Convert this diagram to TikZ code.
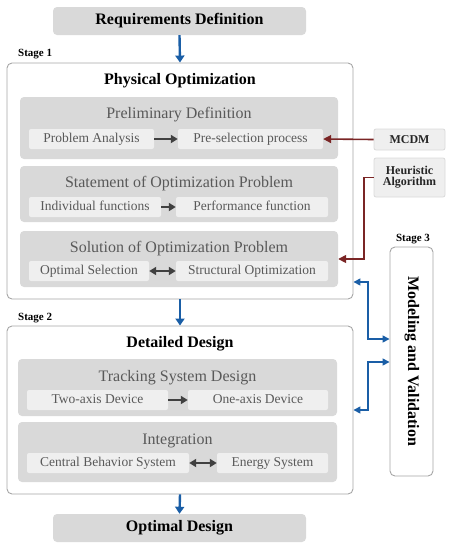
\documentclass[tikz,border=0pt]{standalone}
\usepackage{fontspec}
\setmainfont{Liberation Serif}
\usetikzlibrary{arrows.meta}
\definecolor{boxgray}{HTML}{D9D9D9}
\definecolor{subgray}{HTML}{EFEFEF}
\definecolor{txtgray}{HTML}{595959}
\definecolor{framegray}{HTML}{A6A6A6}
\definecolor{arrgray}{HTML}{404040}
\definecolor{blueA}{HTML}{1A5EA6}
\definecolor{redA}{HTML}{7A2525}
\tikzset{
  capc/.style={text height=0.86em, text depth=0.2em},
  endbox/.style={fill=boxgray, rounded corners=4pt, inner sep=0pt, capc, font=\fontsize{16}{18}\selectfont\bfseries},
  stagebox/.style={draw=framegray, line width=0.9pt, fill=white, rounded corners=5pt, inner sep=0pt},
  graybox/.style={fill=boxgray, rounded corners=4pt, inner sep=0pt},
  subbox/.style={fill=subgray, rounded corners=2pt, inner sep=0pt, text=txtgray, capc, font=\fontsize{13.5}{15}\selectfont},
  sidebox/.style={fill=subgray, draw=boxgray, line width=0.8pt, rounded corners=2pt, inner sep=0pt, font=\fontsize{12}{13}\selectfont\bfseries, align=center, text=black!85},
  ttl/.style={inner sep=0pt, capc, font=\fontsize{16}{18}\selectfont\bfseries},
  subttl/.style={inner sep=0pt, text=txtgray, capc, font=\fontsize{16}{18}\selectfont},
  stagelbl/.style={inner sep=0pt, anchor=west, capc, font=\fontsize{11}{13}\selectfont\bfseries},
  bluebig/.style={draw=blueA, line width=2.4pt, -{Triangle[length=7pt,width=9pt]}},
  bluethin/.style={draw=blueA, line width=1.5pt, {Triangle[length=7pt,width=7pt]}-{Triangle[length=7pt,width=7pt]}},
  grayarr/.style={draw=arrgray, line width=2pt, -{Triangle[length=7pt,width=8pt]}},
  grayarr2/.style={draw=arrgray, line width=2pt, {Triangle[length=7pt,width=8pt]}-{Triangle[length=7pt,width=8pt]}},
  redarr/.style={draw=redA, line width=1.6pt, -{Triangle[length=8pt,width=8pt]}},
}
\begin{document}
\begin{tikzpicture}[x=1pt,y=-1pt]
\useasboundingbox (0,0) rectangle (453,550);
% top and bottom
\node[endbox, minimum width=253pt, minimum height=28pt] (req) at (179.5,21) {Requirements Definition};
\node[endbox, minimum width=253pt, minimum height=28pt] (opt) at (179.5,528) {Optimal Design};
% stage 1
\node[stagelbl] (st1) at (18,53) {Stage 1};
\node[stagebox, minimum width=346pt, minimum height=236pt] (s1) at (180,181) {};
\node[ttl] (phys) at (180,81) {Physical Optimization};
\node[graybox, minimum width=318pt, minimum height=62pt] (pre) at (179,128) {};
\node[subttl] (pret) at (179,115) {Preliminary Definition};
\node[subbox, minimum width=125pt, minimum height=20pt] (pa) at (91.5,139) {Problem Analysis};
\node[subbox, minimum width=145pt, minimum height=20pt] (ps) at (250.5,139) {Pre-selection process};
\node[graybox, minimum width=318pt, minimum height=56pt] (stat) at (179,194) {};
\node[subttl] (statt) at (179,184) {Statement of Optimization Problem};
\node[subbox, minimum width=132pt, minimum height=20pt] (if) at (95,207) {Individual functions};
\node[subbox, minimum width=152pt, minimum height=20pt] (pf) at (252,207) {Performance function};
\node[graybox, minimum width=318pt, minimum height=56pt] (sol) at (179,259) {};
\node[subttl] (solt) at (179,249) {Solution of Optimization Problem};
\node[subbox, minimum width=120pt, minimum height=20pt] (os) at (89,271) {Optimal Selection};
\node[subbox, minimum width=152pt, minimum height=20pt] (so) at (252,271) {Structural Optimization};
% side boxes
\node[sidebox, minimum width=71pt, minimum height=21pt] (mcdm) at (409.5,139.5) {MCDM};
\node[sidebox, minimum width=71pt, minimum height=39pt] (heur) at (409.5,177.5) {Heuristic\\[-2pt]Algorithm};
% stage 2
\node[stagelbl] (st2) at (18,317) {Stage 2};
\node[stagebox, minimum width=346pt, minimum height=168pt] (s2) at (180,410) {};
\node[ttl] (det) at (180,344) {Detailed Design};
\node[graybox, minimum width=319pt, minimum height=57pt] (trk) at (177.5,387.5) {};
\node[subttl] (trkt) at (177.5,378) {Tracking System Design};
\node[subbox, minimum width=141pt, minimum height=20pt] (two) at (97.5,400) {Two-axis Device};
\node[subbox, minimum width=140pt, minimum height=20pt] (one) at (258,400) {One-axis Device};
\node[graybox, minimum width=319pt, minimum height=60pt] (integ) at (177.5,452) {};
\node[subttl] (integt) at (177.5,441) {Integration};
\node[subbox, minimum width=162pt, minimum height=20pt] (cbs) at (108,463) {Central Behavior System};
\node[subbox, minimum width=111pt, minimum height=20pt] (en) at (272.5,463) {Energy System};
% stage 3
\node[inner sep=0pt, capc, font=\fontsize{11}{13}\selectfont\bfseries] (st3) at (413,238) {Stage 3};
\node[stagebox, minimum width=43pt, minimum height=229pt] (s3) at (411.5,361.5) {};
\node[ttl, rotate=-90] (mv) at (411.5,361.5) {Modeling and Validation};
% arrows
\draw[bluebig] (req.south) -- (s1.north);
\draw[bluebig] (s1.south) -- (s2.north);
\draw[bluebig] (s2.south) -- (opt.north);
\draw[grayarr] (pa.east) -- (ps.west);
\draw[grayarr] (if.east) -- (pf.west);
\draw[grayarr2] (os.east) -- (so.west);
\draw[grayarr] (two.east) -- (one.west);
\draw[grayarr2] (cbs.east) -- (en.west);
\draw[redarr] (mcdm.west) -- (ps.east);
\draw[redarr] (heur.west) -- (364,177.5) |- (sol.east);
\draw[bluethin] (s1.east |- 0,282) -- (368,282) |- (s3.west |- 0,339);
\draw[bluethin] (s3.west |- 0,362) -- (368,362) |- (s2.east |- 0,410);
\end{tikzpicture}
\end{document}
